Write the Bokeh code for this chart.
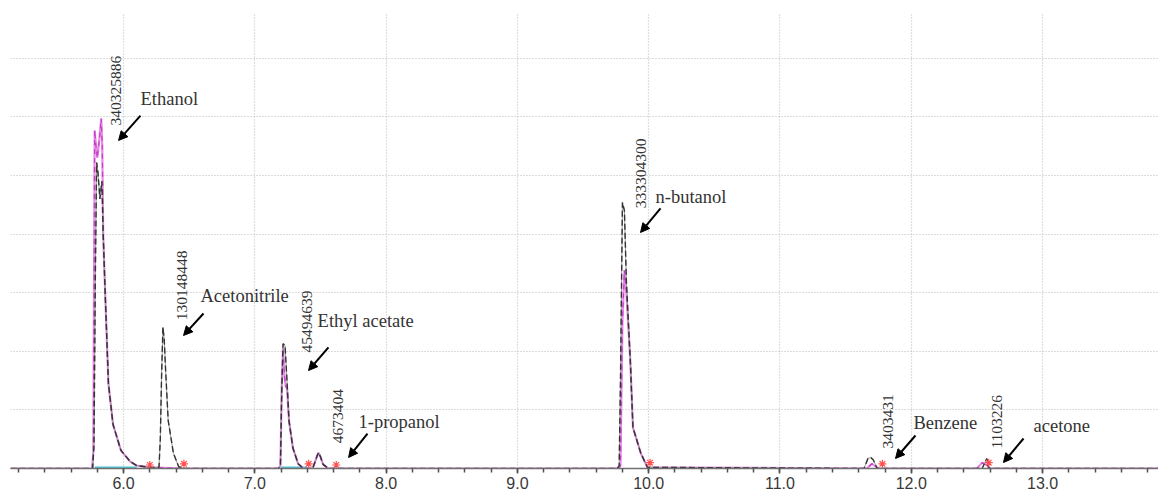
from bokeh.plotting import figure
from bokeh.models import (Range1d, FixedTicker, NumeralTickFormatter, Arrow, NormalHead,
                          ColumnDataSource)
from bokeh.core.properties import value
from bokeh.embed import file_html
from bokeh.resources import INLINE
import math

# ---------------- data (retention time in min, detector signal in grid units) ----------------
black_t = [5.14, 5.70, 5.765, 5.775, 5.785, 5.795, 5.805, 5.82, 5.835, 5.845, 5.86, 5.885, 5.92,
           5.98, 6.05, 6.10, 6.20, 6.27, 6.28, 6.29, 6.30, 6.31, 6.32, 6.34, 6.38, 6.42, 6.46,
           7.18, 7.195, 7.205, 7.215, 7.23, 7.245, 7.26, 7.29, 7.33, 7.37, 7.44, 7.46, 7.475,
           7.485, 7.50, 7.52, 7.56, 9.76, 9.775, 9.785, 9.80, 9.815, 9.83, 9.86, 9.88, 9.94,
           9.99, 11.64, 11.67, 11.69, 11.71, 11.74, 12.54, 12.56, 12.575, 12.59, 13.9]
black_y = [0.0, 0.0, 0.0, 0.4, 3.2, 5.22, 5.05, 4.6, 4.9, 4.0, 3.0, 1.45, 0.75,
           0.31, 0.12, 0.05, 0.02, 0.02, 0.5, 1.6, 2.41, 2.2, 1.7, 0.82, 0.26, 0.03, 0.0,
           0.0, 0.05, 1.3, 2.13, 2.1, 1.5, 0.82, 0.35, 0.08, 0.0, 0.0, 0.12, 0.22,
           0.27, 0.2, 0.07, 0.0, 0.0, 0.05, 1.5, 4.54, 4.4, 3.2, 1.84, 0.7, 0.26,
           0.02, 0.0, 0.17, 0.19, 0.15, 0.0, 0.0, 0.1, 0.17, 0.0, 0.0]

pink_t = [5.14, 5.76, 5.77, 5.78, 5.79, 5.80, 5.815, 5.83, 5.838, 5.845, 5.86, 5.885, 5.92,
          5.98, 6.05, 6.10, 6.20, 6.46, 7.18, 7.195, 7.205, 7.215, 7.225, 7.235, 7.245, 7.26,
          7.29, 7.33, 7.37, 7.44, 7.46, 7.475, 7.485, 7.50, 7.52, 7.56, 9.77, 9.785, 9.80,
          9.815, 9.83, 9.86, 9.88, 9.94, 9.99, 11.66, 11.70, 11.75, 12.50, 12.54, 12.58,
          12.60, 13.9]
pink_y = [0.0, 0.0, 0.3, 5.77, 5.5, 5.3, 5.6, 5.97, 5.5, 4.0, 3.0, 1.45, 0.75,
          0.31, 0.12, 0.05, 0.02, 0.0, 0.0, 0.05, 1.4, 2.06, 1.6, 1.4, 1.38, 0.82,
          0.35, 0.08, 0.0, 0.0, 0.12, 0.22, 0.27, 0.2, 0.07, 0.0, 0.0, 0.05, 2.5,
          3.38, 3.0, 1.84, 0.7, 0.26, 0.02, 0.0, 0.08, 0.0, 0.0, 0.1, 0.05,
          0.0, 0.0]

# peak-end markers
mark_t = [6.20, 6.46, 7.41, 7.62, 10.01, 11.78, 12.59]
mark_y = [0.06, 0.08, 0.08, 0.06, 0.1, 0.08, 0.1]

# baseline segments
base_t0 = [5.78, 7.20]
base_t1 = [6.10, 7.40]

# peak areas and compound names
areas = ["340325886", "130148448", "45494639", "4673404", "333304300", "3403431", "1103226"]
compounds = ["Ethanol", "Acetonitrile", "Ethyl acetate", "1-propanol", "n-butanol", "Benzene", "acetone"]

# annotation placement
area_x = [5.939, 6.449, 7.401, 7.630, 9.938, 11.819, 12.656]
area_y = [5.85, 2.53, 1.98, 0.43, 4.44, 0.34, 0.34]
name_x = [6.129, 6.586, 7.478, 7.790, 10.052, 12.017, 12.931]
name_y = [6.30, 2.95, 2.51, 0.79, 4.64, 0.77, 0.73]
arr_x0 = [6.129, 6.609, 7.561, 7.858, 10.090, 12.032, 12.855]
arr_y0 = [6.02, 2.645, 2.065, 0.597, 4.437, 0.563, 0.512]
arr_x1 = [5.962, 6.457, 7.409, 7.714, 9.938, 11.880, 12.702]
arr_y1 = [5.597, 2.270, 1.672, 0.188, 4.027, 0.171, 0.102]

x_ticks = [5, 6, 7, 8, 9, 10, 11, 12, 13, 14]
y_grid = [1, 2, 3, 4, 5, 6, 7]

# ---------------- figure ----------------
p = figure(width=1158, height=496, output_backend="svg", toolbar_location=None,
           x_range=Range1d(5.139, 13.883), y_range=Range1d(0, 7.78),
           min_border_left=10, min_border_right=0, min_border_top=12, min_border_bottom=28)
p.outline_line_color = None
p.background_fill_color = "white"

p.yaxis.visible = False
p.ygrid.ticker = FixedTicker(ticks=y_grid)
p.ygrid.grid_line_color = "#b8b8b8"
p.ygrid.grid_line_dash = "1 2"
p.ygrid.grid_line_width = 1.2

xa = p.xaxis[0]
xa.ticker = FixedTicker(ticks=x_ticks, minor_ticks=[t / 5 for t in range(25, 71)])
xa.formatter = NumeralTickFormatter(format="0.0")
xa.axis_line_color = "#707070"
xa.axis_line_width = 1.5
xa.major_tick_line_color = "#505050"
xa.major_tick_line_width = 1.5
xa.major_tick_out = 5
xa.major_tick_in = 0
xa.minor_tick_line_color = "#505050"
xa.minor_tick_line_width = 1.5
xa.minor_tick_out = 4
xa.minor_tick_in = 0
xa.major_label_standoff = 3
xa.axis_label_standoff = 0
xa.major_label_text_font = "Liberation Sans"
xa.major_label_text_font_size = "16px"
xa.major_label_text_color = "#383838"
p.xgrid.grid_line_color = "#c0c0c0"
p.xgrid.grid_line_dash = "1 2"
p.xgrid.grid_line_width = 1.2

# baseline segments
p.segment(x0=base_t0, y0=[0.02] * len(base_t0), x1=base_t1, y1=[0.02] * len(base_t1),
          line_color="#4cc3d3", line_width=1.5)

# traces
p.line(pink_t, pink_y, line_color="#e88ae8", line_width=2.2)
p.line(pink_t, pink_y, line_color="#c43fc4", line_width=1.2, line_dash="5 4")
p.line(black_t, black_y, line_color="#9a9a9a", line_width=1.0)
p.line(black_t, black_y, line_color="#333333", line_width=1.4, line_dash="6 3")

p.scatter(mark_t, mark_y, marker="asterisk", size=8, line_color="#ff5050", line_width=1.2)

# area labels (vertical)
p.text(x=area_x, y=area_y, text=areas, angle=math.pi / 2,
       text_font=value("Liberation Serif"), text_font_size="15.5px",
       text_color="#333333", text_align="left", text_baseline="middle")

# compound names
p.text(x=name_x, y=name_y, text=compounds,
       text_font=value("Liberation Serif"), text_font_size="18.5px",
       text_color="#333333", text_align="left", text_baseline="middle")

# arrows
asrc = ColumnDataSource(dict(x0=arr_x0, y0=arr_y0, x1=arr_x1, y1=arr_y1))
p.add_layout(Arrow(end=NormalHead(size=9, fill_color="black", line_color="black"),
                   x_start="x0", y_start="y0", x_end="x1", y_end="y1",
                   line_color="black", line_width=2, source=asrc))

open("out.html", "w").write(file_html(p, INLINE))
